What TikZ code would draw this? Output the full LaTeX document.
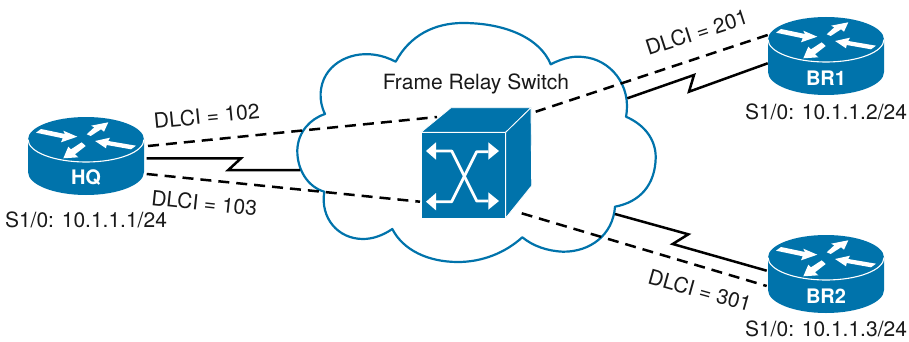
\documentclass[tikz,border=0pt]{standalone}
\usepackage{fontspec}
\setmainfont{TeX Gyre Heros}
\definecolor{ciscoblue}{HTML}{0073AB}
\tikzset{
  lbl/.style={font=\fontsize{21}{24}\selectfont,text=black!90,inner sep=0pt},
  rname/.style={font=\fontsize{20}{24}\selectfont\bfseries,text=white,inner sep=0pt},
  dashlink/.style={draw=black,line width=2.5pt,dash pattern=on 11pt off 7pt},
  seriallink/.style={draw=black,line width=2.5pt,line join=miter},
  whitearrow/.style={fill=white,draw=none},
  router/.pic={
    \fill[ciscoblue] (-58,22.5) -- (-58,55) .. controls (-58,67.7) and (-32,78) .. (0,78) .. controls (32,78) and (58,67.7) .. (58,55) -- (58,22.5) .. controls (58,10) and (32,0) .. (0,0) .. controls (-32,0) and (-58,10) .. (-58,22.5) -- cycle;
    \draw[white,line width=1.1pt] (-58,22.5) .. controls (-58,35) and (-32,45) .. (0,45) .. controls (32,45) and (58,35) .. (58,22.5);
    \fill[whitearrow] (-50,15.7) -- (-45,12) -- (-21,17) -- (-22.7,13.7) -- (-8.7,19.7) -- (-25,25.3) -- (-23.3,21.3) -- cycle;
    \fill[whitearrow] (0.7,17.3) -- (8.3,10.3) -- (5,8.7) -- (22.3,5.3) -- (18,14.7) -- (15,12.3) -- (4.7,19) -- cycle;
    \fill[whitearrow] (9,24) -- (24,20.7) -- (22.3,24) -- (50,28.7) -- (45,32.3) -- (20.7,28) -- (20,31.3) -- cycle;
    \fill[whitearrow] (-22.7,41.3) -- (-17.7,29.7) -- (-15,32.3) -- (-4.3,25.3) -- (-0.3,29) -- (-11,37.3) -- (-7.7,40.3) -- cycle;
  }
}
\begin{document}
\begin{tikzpicture}[x=1pt,y=-1pt]
\useasboundingbox (0,0) rectangle (909,342);
% cloud
\draw[ciscoblue,line width=2.2pt,fill=white,line join=round]
  (395.7,61.7)
  .. controls (410,35) and (435,23) .. (463,23)
  .. controls (505,23) and (540,38) .. (550.7,64.3)
  .. controls (565,57) and (575,56) .. (583,57)
  .. controls (610,59) and (632,85) .. (626,116.7)
  .. controls (645,125) and (656,140) .. (655.7,158)
  .. controls (655,185) and (640,202) .. (615,206.7)
  .. controls (613,235) and (590,252) .. (563,251.7)
  .. controls (547,251) and (533,246) .. (522.3,237.3)
  .. controls (505,253) and (482,262) .. (458,262)
  .. controls (428,262) and (403,250) .. (392.3,229)
  .. controls (382,236) and (372,239) .. (363,239)
  .. controls (338,239) and (320,218) .. (324.3,191.7)
  .. controls (308,187) and (297,170) .. (297.3,150)
  .. controls (298,132) and (310,119) .. (325,114)
  .. controls (318,100) and (320,85) .. (326,75)
  .. controls (338,55) and (368,47) .. (395.7,61.7)
  -- cycle;
\node[lbl] (title) at (476,84) {Frame Relay Switch};
% connector end points
\coordinate (hqA) at (148,146);
\coordinate (hqB) at (146.7,158.3);
\coordinate (hqC) at (146.7,174);
\coordinate (swA) at (437,117);
\coordinate (swB) at (420,201.7);
\coordinate (swC) at (535.7,111.7);
\coordinate (swD) at (521.7,213.3);
\coordinate (clA) at (300,170);
\coordinate (clB) at (627.3,98.3);
\coordinate (clC) at (615,214);
\coordinate (brA) at (767.7,35);
\coordinate (brB) at (767.7,63.3);
\coordinate (brC) at (766.7,270.7);
\coordinate (brD) at (766.7,286);
% links
\draw[dashlink] (hqA) -- (swA);
\draw[dashlink] (hqC) -- (swB);
\draw[dashlink] (brA) -- (swC);
\draw[dashlink] (swD) -- (brD);
\draw[seriallink] (hqB) -- (241,158.3) -- (228.3,170) -- (clA);
\draw[seriallink] (clB) -- (694,75) -- (689,91.7) -- (brB);
\draw[seriallink] (clC) -- (688.3,234.3) -- (672.7,244) -- (brC);
% switch cube
\fill[ciscoblue,draw=white,line width=0.8pt,line join=round] (421,132.3) -- (451,107.7) -- (531,107.7) -- (505.7,132.3) -- cycle;
\fill[ciscoblue,draw=white,line width=0.8pt,line join=round] (505.7,132.3) -- (531,107.7) -- (531.7,185.7) -- (505.7,218) -- cycle;
\fill[ciscoblue,draw=white,line width=0.8pt,line join=round] (421,132.3) rectangle (505.7,218.3);
\draw[white,line width=2.8pt,line join=round] (434,151) -- (451.7,151) -- (476.7,201) -- (488.3,201);
\draw[white,line width=2.8pt,line join=round] (434,201.7) -- (451.7,201.7) -- (476.7,151.7) -- (488.3,151.7);
\fill[white] (426,151) -- (436,142.3) -- (436,159.7) -- cycle;
\fill[white] (426,201.7) -- (436,193) -- (436,210.4) -- cycle;
\fill[white] (499,151) -- (488.3,142.3) -- (488.3,159.7) -- cycle;
\fill[white] (499,201) -- (488.3,192.3) -- (488.3,209.7) -- cycle;
\node[inner sep=0pt,minimum size=0pt] (sw) at (463,175) {};
% routers
\pic at (86,117) {router};
\pic at (826,17) {router};
\pic at (826,235) {router};
\node[rname] (hq) at (86,178) {HQ};
\node[rname] (br1) at (826,78) {BR1};
\node[rname] (br2) at (826,296) {BR2};
% labels
\node[lbl] (hqip) at (86,220) {S1/0: 10.1.1.1/24};
\node[lbl] (br1ip) at (826,111.7) {S1/0: 10.1.1.2/24};
\node[lbl] (br2ip) at (826,329) {S1/0: 10.1.1.3/24};
\node[lbl,rotate=5.5] (d102) at (206.7,116) {DLCI = 102};
\node[lbl,rotate=-6] (d103) at (204.3,203) {DLCI = 103};
\node[lbl,rotate=18] (d201) at (696.7,32.3) {DLCI = 201};
\node[lbl,rotate=-15.6] (d301) at (700,290) {DLCI = 301};
\end{tikzpicture}
\end{document}
